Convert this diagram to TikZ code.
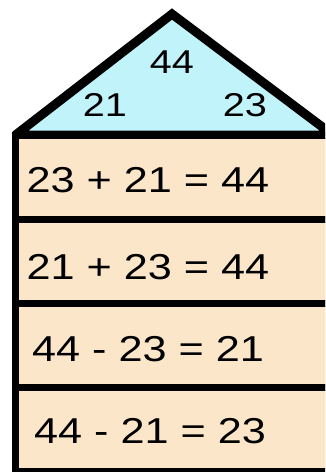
\documentclass[tikz,border=0pt]{standalone}
\usepackage{fontspec}
\setmainfont{Liberation Sans}
\newfontfamily\widesans[FakeStretch=1.2]{Liberation Sans}
\usetikzlibrary{positioning}
\usepackage{xcolor}
\definecolor{roofblue}{RGB}{192,244,250}
\definecolor{roompeach}{RGB}{251,230,201}
\tikzset{
    roof/.style = {draw=black, line width=9pt, fill=roofblue, line join=miter, miter limit=2},
    room/.style = {rectangle, draw=black, line width=7pt, fill=roompeach, minimum width=320pt, minimum height=84pt, inner sep=0pt, outer sep=0pt},
    fact/.style = {font=\widesans\fontsize{36}{40}\selectfont, inner sep=0pt},
    roofnum/.style = {font=\widesans\fontsize{33}{36}\selectfont, inner sep=0pt}
}

\begin{document}
\begin{tikzpicture}[x=1pt, y=-1pt]
\clip (0,0) rectangle (325,472);

\coordinate (eaveL) at (15.5,135);
\coordinate (ridge) at (172,14);
\coordinate (eaveR) at (333,135);
\draw[roof] (eaveL) -- (ridge) -- (eaveR) -- cycle;

\node[roofnum] (sum) at (172,62) {44};
\node[roofnum] (partL) at (105,105) {21};
\node[roofnum] (partR) at (245,105) {23};

\node[room, anchor=north west] (row1) at (eaveL) {};
\node[room, below=0pt of row1] (row2) {};
\node[room, below=0pt of row2] (row3) {};
\node[room, below=0pt of row3] (row4) {};

\node[fact] (eq1) at (148,180) {23 + 21 = 44};
\node[fact] (eq2) at (148,267) {21 + 23 = 44};
\node[fact] (eq3) at (148,349) {44 - 23 = 21};
\node[fact] (eq4) at (150,431) {44 - 21 = 23};
\end{tikzpicture}
\end{document}
